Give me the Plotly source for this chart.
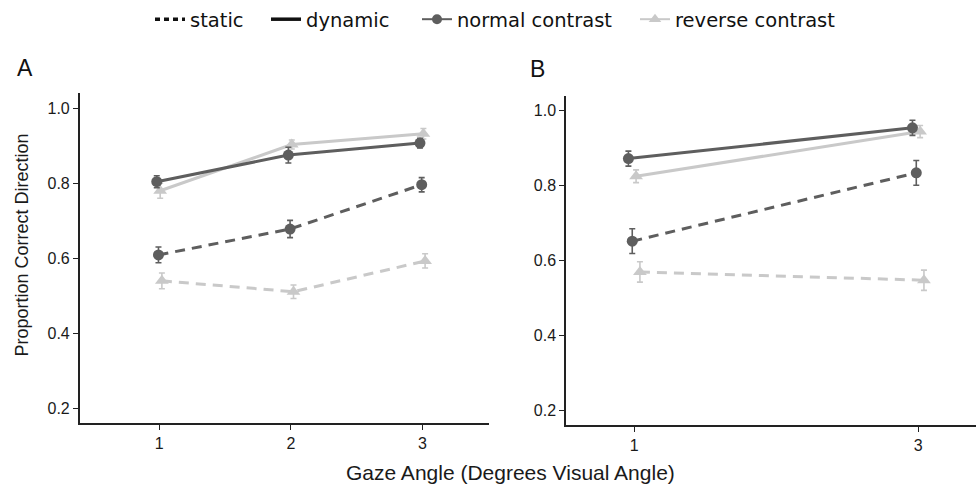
import plotly.graph_objects as go

# ---------------- data ----------------
angles_A = [1, 2, 3]
angles_B = [1, 3]

# Panel A
A_normal_dynamic = [0.804, 0.875, 0.907]
A_normal_dynamic_err = [0.016, 0.021, 0.013]
A_reverse_dynamic = [0.780, 0.903, 0.932]
A_reverse_dynamic_err = [0.020, 0.012, 0.014]
A_normal_static = [0.609, 0.678, 0.796]
A_normal_static_err = [0.021, 0.023, 0.019]
A_reverse_static = [0.540, 0.511, 0.593]
A_reverse_static_err = [0.021, 0.018, 0.019]

# Panel B
B_normal_dynamic = [0.871, 0.953]
B_normal_dynamic_err = [0.020, 0.020]
B_reverse_dynamic = [0.824, 0.943]
B_reverse_dynamic_err = [0.017, 0.016]
B_normal_static = [0.651, 0.833]
B_normal_static_err = [0.033, 0.033]
B_reverse_static = [0.569, 0.547]
B_reverse_static_err = [0.027, 0.027]

y_ticks = [0.2, 0.4, 0.6, 0.8, 1.0]
legend_labels = ["static", "dynamic", "normal contrast", "reverse contrast"]

# ---------------- style ----------------
DARK = "#5e5e5e"
LIGHT = "#c9c9c9"
DASH = "10px,7px"
LW = 3
TICKFONT = dict(family="Liberation Sans, Arial, sans-serif", size=16, color="#1a1a1a")
TITLEFONT = dict(family="Liberation Sans, Arial, sans-serif", size=18, color="#1a1a1a")
XTITLEFONT = dict(family="Liberation Sans, Arial, sans-serif", size=21, color="#1a1a1a")
LEGFONT = dict(family="DejaVu Sans, Verdana, sans-serif", size=19.5, color="#111111")

fig = go.Figure()


def add_series(x, y, err, color, dash, symbol, msize, shift, xa, ya):
    fig.add_trace(go.Scatter(
        x=[v + shift for v in x], y=y,
        mode="lines+markers",
        line=dict(color=color, width=LW, dash=dash),
        marker=dict(color=color, symbol=symbol, size=msize),
        error_y=dict(type="data", array=err, visible=True, color=color,
                     thickness=1.6, width=3),
        xaxis=xa, yaxis=ya, showlegend=False, hoverinfo="skip",
    ))


# Panel A (draw static first, then dynamic)
dA = 0.013
add_series(angles_A, A_reverse_static, A_reverse_static_err, LIGHT, DASH, "triangle-up", 12, 1.5 * dA, "x", "y")
add_series(angles_A, A_normal_static, A_normal_static_err, DARK, DASH, "circle", 11, -0.5 * dA, "x", "y")
add_series(angles_A, A_reverse_dynamic, A_reverse_dynamic_err, LIGHT, "solid", "triangle-up", 12, 0.5 * dA, "x", "y")
add_series(angles_A, A_normal_dynamic, A_normal_dynamic_err, DARK, "solid", "circle", 11, -1.5 * dA, "x", "y")

# Panel B
dB = 0.027
add_series(angles_B, B_reverse_static, B_reverse_static_err, LIGHT, DASH, "triangle-up", 12, 1.5 * dB, "x2", "y2")
add_series(angles_B, B_normal_static, B_normal_static_err, DARK, DASH, "circle", 11, -0.5 * dB, "x2", "y2")
add_series(angles_B, B_reverse_dynamic, B_reverse_dynamic_err, LIGHT, "solid", "triangle-up", 12, 0.5 * dB, "x2", "y2")
add_series(angles_B, B_normal_dynamic, B_normal_dynamic_err, DARK, "solid", "circle", 11, -1.5 * dB, "x2", "y2")

# Legend-only traces, each in its own legend for exact placement
leg_specs = [
    (legend_labels[0], dict(color="#111111", width=3.5, dash="5px,4px"), None, "legend"),
    (legend_labels[1], dict(color="#111111", width=3.5), None, "legend2"),
    (legend_labels[2], dict(color=DARK, width=2), dict(color=DARK, symbol="circle", size=10), "legend3"),
    (legend_labels[3], dict(color=LIGHT, width=2), dict(color=LIGHT, symbol="triangle-up", size=11), "legend4"),
]
for name, line, marker, leg in leg_specs:
    fig.add_trace(go.Scatter(
        x=[None], y=[None], name=name,
        mode="lines+markers" if marker else "lines",
        line=line, marker=marker if marker else None,
        legend=leg, showlegend=True, xaxis="x", yaxis="y",
    ))

W, H = 976, 488
# text start x positions (px) of each legend label
text_px = [190, 306, 457, 675]
legend_layout = {}
for key, tx in zip(["legend", "legend2", "legend3", "legend4"], text_px):
    legend_layout[key] = dict(
        x=(tx - 40) / W, xanchor="left", y=1 + 3 / H, yanchor="top",
        orientation="h", font=LEGFONT, bgcolor="rgba(0,0,0,0)",
        itemwidth=30, tracegroupgap=0,
    )

axis_common = dict(
    showgrid=False, zeroline=False, showline=True, linecolor="#222222", linewidth=1.5,
    ticks="outside", ticklen=5, tickwidth=1.2, tickcolor="#222222",
    tickfont=TICKFONT, automargin=False,
)

fig.update_layout(
    width=W, height=H,
    margin=dict(l=0, r=0, t=0, b=0),
    paper_bgcolor="white", plot_bgcolor="white",
    xaxis=dict(domain=[79.7 / W, 489 / W], range=[0.395, 3.505],
               tickvals=angles_A, ticktext=[str(a) for a in angles_A], anchor="y", **axis_common),
    yaxis=dict(domain=[1 - 422.7 / H, 1 - 90.7 / H], range=[0.161, 1.04],
               tickvals=y_ticks, ticktext=[f"{v:.1f}" for v in y_ticks], anchor="x", **axis_common),
    xaxis2=dict(domain=[566 / W, 1.0], range=[0.52, 3.407],
                tickvals=angles_B, ticktext=[str(a) for a in angles_B], anchor="y2", **axis_common),
    yaxis2=dict(domain=[1 - 424.7 / H, 1 - 93.3 / H], range=[0.161, 1.0385],
                tickvals=y_ticks, ticktext=[f"{v:.1f}" for v in y_ticks], anchor="x2", **axis_common),
    **legend_layout,
)

ann_common = dict(xref="paper", yref="paper", showarrow=False, xanchor="center", yanchor="middle")
fig.add_annotation(text="A", x=24.5 / W, y=1 - 65 / H,
                   font=dict(family="Liberation Sans, Arial", size=23, color="#111"), **ann_common)
fig.add_annotation(text="B", x=537 / W, y=1 - 66 / H,
                   font=dict(family="Liberation Sans, Arial", size=23, color="#111"), **ann_common)
fig.add_annotation(text="Proportion Correct Direction", x=21 / W, y=1 - 244 / H,
                   textangle=-90, font=TITLEFONT, **ann_common)
fig.add_annotation(text="Gaze Angle (Degrees Visual Angle)", x=510 / W, y=1 - 472 / H,
                   font=XTITLEFONT, **ann_common)

fig.write_html("out.html", config={"displayModeBar": False},
               post_script="document.body.style.margin='0';document.body.style.overflow='hidden';")
